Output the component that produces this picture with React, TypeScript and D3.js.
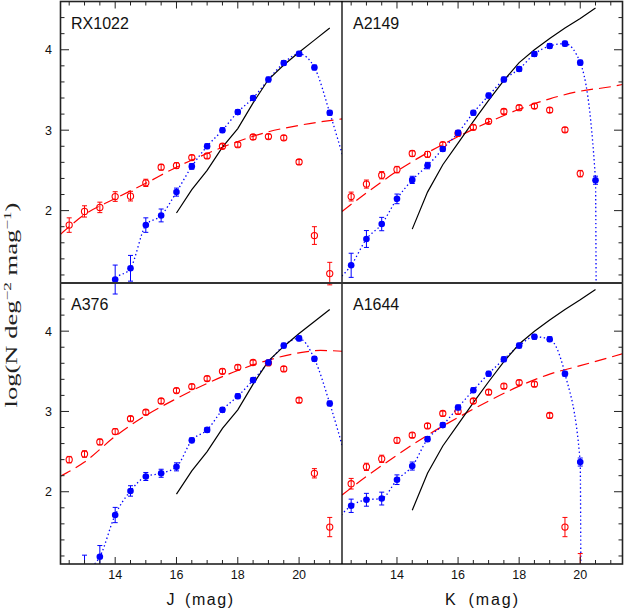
import React from "react";
import * as d3 from "d3";

// magnitude bins shared by all four panels
const bins = [12.5, 13, 13.5, 14, 14.5, 15, 15.5, 16, 16.5, 17, 17.5, 18, 18.5, 19, 19.5, 20, 20.5, 21];

// model counts (black solid)
const jModelMag = [16, 16.5, 17, 17.5, 18, 18.5, 19, 19.5, 20, 20.5, 21];
const jModelVal = [1.97, 2.26, 2.5, 2.79, 3.02, 3.34, 3.63, 3.81, 3.97, 4.12, 4.27];
const kModelMag = [14.5, 15, 15.5, 16, 16.5, 17, 17.5, 18, 18.5, 19, 19.5, 20, 20.5];
const kModelVal = [1.77, 2.23, 2.57, 2.84, 3.11, 3.37, 3.62, 3.84, 4.0, 4.14, 4.27, 4.39, 4.52];

// RX1022 (J)
const rxRed = [1.82, 1.99, 2.04, 2.175, 2.18, 2.345, 2.54, 2.56, 2.66, 2.68, 2.8, 2.82, 2.915, 2.92, 2.905, 2.605, 1.69, 1.217];
const rxRedErr = [0.09, 0.07, 0.065, 0.06, 0.06, 0.045, 0.035, 0.035, 0.03, 0.03, 0.03, 0.03, 0.03, 0.03, 0.03, 0.03, 0.11, 0.14];
const rxBlue = [null, null, null, 1.143, 1.283, 1.82, 1.94, 2.23, 2.55, 2.8, 3.0, 3.225, 3.4, 3.63, 3.836, 3.95, 3.78, 3.216];
const rxBlueErr = [0, 0, 0, 0.18, 0.16, 0.09, 0.08, 0.05, 0.035, 0.03, 0.03, 0.03, 0.03, 0.03, 0.03, 0.03, 0.03, 0.03];
const rxBlueEnds = [[13.8, 0.98], [21.5, 2.58]];
const rxFitMag = [12.2, 13, 14, 15, 16, 17, 18, 19, 20, 21.4];
const rxFitVal = [1.7, 1.95, 2.15, 2.34, 2.54, 2.71, 2.86, 2.98, 3.06, 3.14];

// A2149 (K)
const a2149Red = [2.175, 2.33, 2.44, 2.51, 2.71, 2.7, 2.82, 2.96, 3.035, 3.11, 3.233, 3.28, 3.3, 3.25, 3.005, 2.46, null, null];
const a2149RedErr = [0.055, 0.05, 0.045, 0.04, 0.035, 0.035, 0.03, 0.03, 0.03, 0.03, 0.03, 0.03, 0.03, 0.03, 0.03, 0.04, 0, 0];
const a2149Blue = [1.32, 1.647, 1.833, 2.146, 2.382, 2.56, 2.766, 2.968, 3.216, 3.43, 3.63, 3.76, 3.947, 4.047, 4.076, 3.84, 2.378, null];
const a2149BlueErr = [0.15, 0.105, 0.083, 0.06, 0.045, 0.04, 0.03, 0.03, 0.03, 0.03, 0.03, 0.03, 0.03, 0.03, 0.03, 0.03, 0.05, 0];
const a2149BlueEnds = [[12.0, 1.12], [20.52, 1.0]];
const a2149FitMag = [12.2, 13, 14, 15, 16, 17, 18, 19, 20, 21, 21.4];
const a2149FitVal = [1.99, 2.22, 2.49, 2.72, 2.92, 3.1, 3.26, 3.39, 3.485, 3.54, 3.57];

// A376 (J)
const a376Red = [2.4, 2.47, 2.62, 2.75, 2.91, 2.99, 3.13, 3.26, 3.31, 3.41, 3.5, 3.55, 3.61, 3.605, 3.53, 3.14, 2.23, 1.56];
const a376RedErr = [0.04, 0.04, 0.035, 0.035, 0.03, 0.03, 0.03, 0.03, 0.03, 0.03, 0.03, 0.03, 0.03, 0.03, 0.03, 0.03, 0.058, 0.12];
const a376Blue = [null, 1.0, 1.19, 1.71, 2.01, 2.19, 2.23, 2.31, 2.64, 2.77, 3.02, 3.19, 3.39, 3.61, 3.82, 3.91, 3.655, 3.1];
const a376BlueErr = [0, 0.21, 0.14, 0.095, 0.065, 0.05, 0.05, 0.05, 0.03, 0.03, 0.03, 0.03, 0.03, 0.03, 0.03, 0.03, 0.03, 0.03];
const a376BlueEnds = [[12.6, 0.82], [21.5, 2.45]];
const a376FitMag = [12.2, 13, 14, 15, 16, 17, 18, 19, 20, 20.7, 21.4];
const a376FitVal = [2.19, 2.37, 2.69, 2.95, 3.16, 3.35, 3.51, 3.64, 3.73, 3.76, 3.75];

// A1644 (K)
const a1644Red = [2.1, 2.31, 2.41, 2.64, 2.705, 2.82, 2.975, 3.0, 3.13, 3.24, 3.315, 3.36, 3.34, 2.95, 1.56, 1.02, null, null];
const a1644RedErr = [0.066, 0.045, 0.045, 0.035, 0.03, 0.03, 0.03, 0.03, 0.03, 0.03, 0.03, 0.03, 0.03, 0.03, 0.12, 0.21, 0, 0];
const a1644Blue = [1.825, 1.9, 1.915, 2.15, 2.32, 2.655, 2.83, 3.05, 3.265, 3.47, 3.65, 3.82, 3.93, 3.9, 3.47, 2.37, null, null];
const a1644BlueErr = [0.083, 0.08, 0.08, 0.06, 0.05, 0.03, 0.03, 0.03, 0.03, 0.03, 0.03, 0.03, 0.03, 0.03, 0.03, 0.05, 0, 0];
const a1644BlueEnds = [[12.0, 1.635], [20.02, 1.0]];
const a1644FitMag = [12.2, 13, 14, 15, 16, 17, 18, 19, 20, 21.4];
const a1644FitVal = [1.96, 2.19, 2.456, 2.705, 2.925, 3.13, 3.315, 3.465, 3.57, 3.72];

const xDomain = [12.2, 21.4];
const yDomain = [1.1, 4.6];
const xTickLabels = [14, 16, 18, 20];
const yTickLabels = [2, 3, 4];
const bandNames = ["J", "K"];

const RED = "#ff0000";
const BLUE = "#0000ff";
const SANS = "'Liberation Sans', Arial, Helvetica, sans-serif";

const colX = [[60, 342], [342, 623]];
const rowY = [[1.5, 283], [283, 564]];

const panels = [
  { name: "RX1022", col: 0, row: 0, red: rxRed, redErr: rxRedErr, blue: rxBlue, blueErr: rxBlueErr, ends: rxBlueEnds, fitMag: rxFitMag, fitVal: rxFitVal, modelMag: jModelMag, modelVal: jModelVal },
  { name: "A2149", col: 1, row: 0, red: a2149Red, redErr: a2149RedErr, blue: a2149Blue, blueErr: a2149BlueErr, ends: a2149BlueEnds, fitMag: a2149FitMag, fitVal: a2149FitVal, modelMag: kModelMag, modelVal: kModelVal },
  { name: "A376", col: 0, row: 1, red: a376Red, redErr: a376RedErr, blue: a376Blue, blueErr: a376BlueErr, ends: a376BlueEnds, fitMag: a376FitMag, fitVal: a376FitVal, modelMag: jModelMag, modelVal: jModelVal },
  { name: "A1644", col: 1, row: 1, red: a1644Red, redErr: a1644RedErr, blue: a1644Blue, blueErr: a1644BlueErr, ends: a1644BlueEnds, fitMag: a1644FitMag, fitVal: a1644FitVal, modelMag: kModelMag, modelVal: kModelVal },
];

type Pt = [number, number];

const Panel = ({ p, i }: { p: typeof panels[number]; i: number }) => {
  const [x0, x1] = colX[p.col];
  const [y0, y1] = rowY[p.row];
  const x = d3.scaleLinear().domain(xDomain).range([x0, x1]);
  const y = d3.scaleLinear().domain(yDomain).range([y1, y0]);
  const line = d3.line<Pt>().x((d) => x(d[0])).y((d) => y(d[1]));
  const smooth = d3.line<Pt>().x((d) => x(d[0])).y((d) => y(d[1])).curve(d3.curveMonotoneX);

  const redPts = bins.map((m, k) => ({ m, v: p.red[k], e: p.redErr[k] })).filter((d) => d.v != null);
  const bluePts = bins.map((m, k) => ({ m, v: p.blue[k], e: p.blueErr[k] })).filter((d) => d.v != null);
  const blueCurve: Pt[] = [p.ends[0] as Pt, ...bluePts.map((d) => [d.m, d.v as number] as Pt), p.ends[1] as Pt];
  const fit: Pt[] = p.fitMag.map((m, k) => [m, p.fitVal[k]]);
  const model: Pt[] = p.modelMag.map((m, k) => [m, p.modelVal[k]]);

  const errBar = (d: { m: number; v: number | null; e: number }, color: string, key: string) => {
    if (!d.e) return null;
    const cx = x(d.m);
    const ya = y((d.v as number) + d.e);
    const yb = y((d.v as number) - d.e);
    return (
      <g key={key} stroke={color} strokeWidth={1}>
        <line x1={cx} x2={cx} y1={ya} y2={yb} />
        <line x1={cx - 2.5} x2={cx + 2.5} y1={ya} y2={ya} />
        <line x1={cx - 2.5} x2={cx + 2.5} y1={yb} y2={yb} />
      </g>
    );
  };

  const xTicks = d3.range(12.5, 21.01, 0.5);
  const yTicks = d3.range(12, 46, 2).map((t) => t / 10);
  const tickY = p.row === 0 ? y0 : y1;
  const tickDir = p.row === 0 ? 1 : -1;
  const tickX = p.col === 0 ? x0 : x1;
  const tickXDir = p.col === 0 ? 1 : -1;

  return (
    <g>
      <defs>
        <clipPath id={`clip${i}`}>
          <rect x={x0} y={y0} width={x1 - x0} height={y1 - y0} />
        </clipPath>
      </defs>
      <g clipPath={`url(#clip${i})`} fill="none">
        <path d={smooth(fit) || ""} stroke={RED} strokeWidth={1.2} strokeDasharray="12 6" />
        <path d={smooth(blueCurve) || ""} stroke={BLUE} strokeWidth={1.3} strokeDasharray="1.4 2.6" />
        <path d={line(model) || ""} stroke="#000" strokeWidth={1.2} />
      </g>
      <g clipPath="url(#clipAll)">
        {redPts.map((d, k) => errBar(d, RED, `re${k}`))}
        {redPts.map((d, k) => (
          <circle key={`r${k}`} cx={x(d.m)} cy={y(d.v as number)} r={3.1} fill="none" stroke={RED} strokeWidth={1.1} />
        ))}
        {bluePts.map((d, k) => errBar(d, BLUE, `be${k}`))}
        {bluePts.map((d, k) => (
          <circle key={`b${k}`} cx={x(d.m)} cy={y(d.v as number)} r={3.3} fill={BLUE} />
        ))}
      </g>
      <g stroke="#222" strokeWidth={1}>
        {xTicks.map((t) => {
          const len = t % 2 === 0 ? 7 : 4;
          return <line key={`xt${t}`} x1={x(t)} x2={x(t)} y1={tickY} y2={tickY + tickDir * len} />;
        })}
        {yTicks.map((t) => {
          const len = Math.abs(t - Math.round(t)) < 1e-6 ? 9 : 4.5;
          return <line key={`yt${t}`} x1={tickX} x2={tickX + tickXDir * len} y1={y(t)} y2={y(t)} />;
        })}
      </g>
      {p.row === 1 &&
        xTickLabels.map((t) => (
          <text key={`xl${t}`} x={x(t)} y={579} textAnchor="middle" fontFamily={SANS} fontSize={12.5} fill="#111">
            {t}
          </text>
        ))}
      {p.col === 0 &&
        yTickLabels.map((t) => (
          <text key={`yl${t}`} x={52} y={y(t) + 4.5} textAnchor="end" fontFamily={SANS} fontSize={12.5} fill="#111">
            {t}
          </text>
        ))}
      {p.row === 1 && (
        <g fontFamily={SANS} fontSize={16} fill="#111">
          <text x={x(12.2) + (p.col === 0 ? 106.5 : 103)} y={605}>
            {bandNames[p.col]}
          </text>
          <text x={x(12.2) + (p.col === 0 ? 125 : 126.5)} y={605} textLength={p.col === 0 ? 48 : 49.5} lengthAdjust="spacing">
            (mag)
          </text>
        </g>
      )}
      <text x={x0 + 11} y={y0 + 27} fontFamily={SANS} fontSize={16} fill="#111">
        {p.name}
      </text>
    </g>
  );
};

const App = () => {
  return (
    <svg width={624} height={608} style={{ position: "absolute", left: 0, top: 0, background: "#fff" }}>
      <defs>
        <clipPath id="clipAll">
          <rect x={60} y={0} width={564} height={564} />
        </clipPath>
      </defs>
      <rect x={0} y={0} width={624} height={608} fill="#fff" />
      {panels.map((p, i) => (
        <Panel key={p.name} p={p} i={i} />
      ))}
      <rect x={60.5} y={1.5} width={562} height={562.5} fill="none" stroke="#222" strokeWidth={1.6} />
      <line x1={342} x2={342} y1={1} y2={564} stroke="#000" strokeWidth={1.3} />
      <line x1={60} x2={623} y1={283} y2={283} stroke="#333" strokeWidth={2.2} />
      <text
        transform="translate(17,305) rotate(-90)"
        textAnchor="middle"
        fontFamily="'Liberation Serif', 'Times New Roman', serif"
        fontSize={17}
        fill="#222"
        textLength={205}
        lengthAdjust="spacingAndGlyphs"
      >
        log(N  deg<tspan baselineShift="super" fontSize={11}>−2</tspan> mag<tspan baselineShift="super" fontSize={11}>−1</tspan>)
      </text>
    </svg>
  );
};

export default App;
